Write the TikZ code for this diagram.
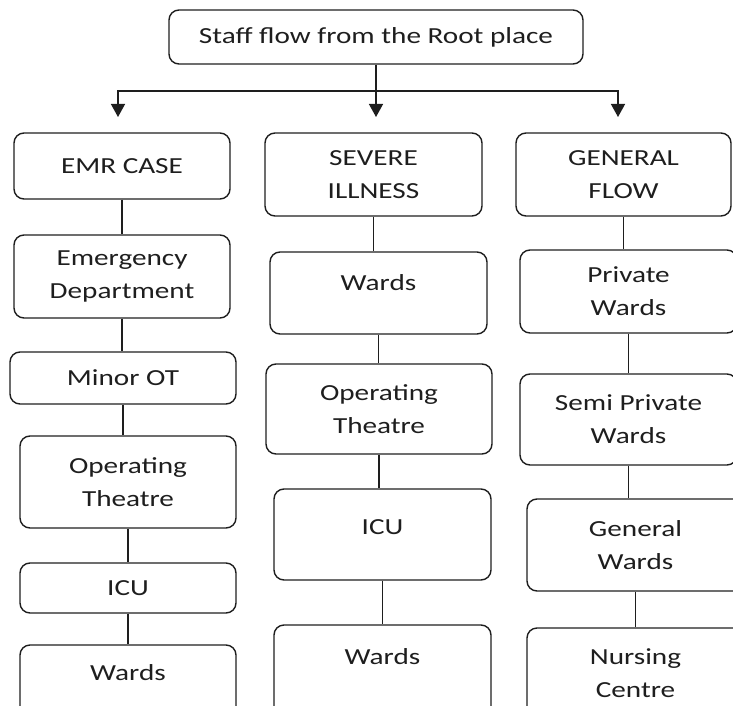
\documentclass[tikz,border=0pt]{standalone}
\usepackage{fontspec}
\setmainfont{Carlito}[FakeStretch=1.27]
\usetikzlibrary{arrows.meta}
\definecolor{inkgray}{RGB}{30,30,30}
\tikzset{
  stage/.style={draw=inkgray, line width=1.4pt, rounded corners=10pt, inner sep=2pt,
    minimum width=216pt, align=center, text=inkgray,
    font=\fontsize{23}{32.7}\selectfont},
  liftup/.style={text depth=#1},
  flowarrow/.style={-{Triangle[length=13pt,width=14pt]}},
}
\begin{document}
\begin{tikzpicture}[x=1pt,y=-1pt,line width=1.4pt,draw=inkgray]
\useasboundingbox (0,0) rectangle (733,706);
\clip (0,0) rectangle (733,706);

\node[stage, minimum width=414pt, minimum height=54pt] (root) at (376,37) {Staff flow from the Root place};

\node[stage, minimum height=66pt] (emr) at (122,166) {EMR CASE};
\node[stage, minimum width=217pt, minimum height=83pt] (severe) at (373.5,174.5) {SEVERE\\ILLNESS};
\node[stage, minimum width=215pt, minimum height=83pt] (general) at (623.5,174.5) {GENERAL\\FLOW};

\node[stage, minimum height=83pt] (emergency) at (122,276.5) {Emergency\\Department};
\node[stage, minimum width=226pt, minimum height=52pt] (minorot) at (123,378) {Minor OT};
\node[stage, minimum height=92pt] (theatreL) at (128,482) {Operating\\Theatre};
\node[stage, minimum height=50pt] (icuL) at (128,588) {ICU};
\node[stage, minimum height=75pt, liftup=19pt] (wardsL) at (128,682.5) {Wards};

\node[stage, minimum width=217pt, minimum height=82pt, liftup=20pt] (wardsM) at (378.5,293) {Wards};
\node[stage, minimum width=226pt, minimum height=90pt] (theatreM) at (379,409) {Operating\\Theatre};
\node[stage, minimum width=217pt, minimum height=91pt, liftup=14pt] (icuM) at (382.5,534.5) {ICU};
\node[stage, minimum width=217pt, minimum height=95pt, liftup=31pt] (wardsB) at (382.5,672.5) {Wards};

\node[stage, minimum width=217pt, minimum height=83pt] (private) at (628.5,291.5) {Private\\Wards};
\node[stage, minimum width=217pt, minimum height=91pt] (semiprivate) at (628.5,419.5) {Semi Private\\Wards};
\node[stage, minimum width=217pt, minimum height=92pt] (generalwards) at (635.5,545) {General\\Wards};
\node[stage, minimum width=217pt, minimum height=91pt] (nursing) at (635.5,673.5) {Nursing\\Centre};

\coordinate (fork) at (376,91);
\coordinate (tipL) at (118,117);
\coordinate (tipM) at (376,117);
\coordinate (tipR) at (618,117);
\draw[flowarrow] (root.south) -- (tipM);
\draw[flowarrow] (fork) -| (tipL);
\draw[flowarrow] (fork) -| (tipR);

\foreach \a/\b in {emr/emergency, emergency/minorot, minorot/theatreL, theatreL/icuL, icuL/wardsL,
  severe/wardsM, wardsM/theatreM, theatreM/icuM, icuM/wardsB,
  general/private, private/semiprivate, semiprivate/generalwards, generalwards/nursing} {
\draw (\a.south) -- (\a.south |- \b.north);}
\end{tikzpicture}
\end{document}
